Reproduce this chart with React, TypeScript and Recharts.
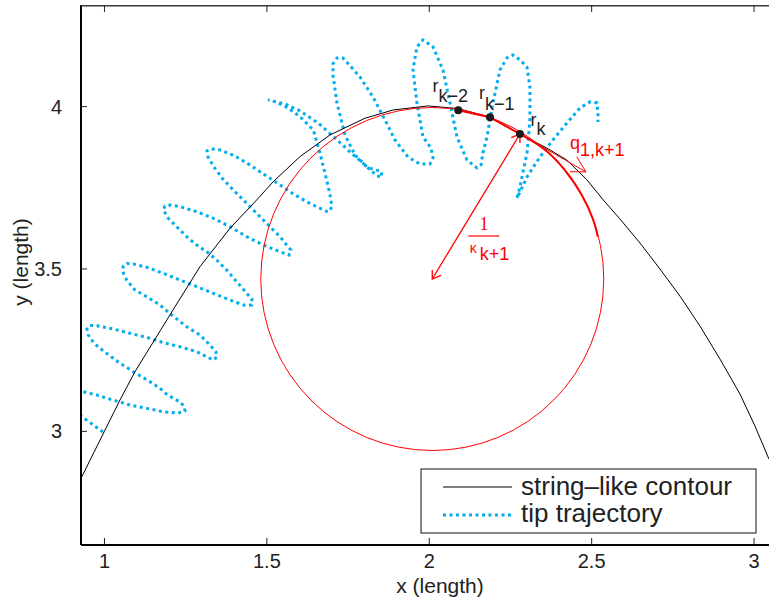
import React from 'react';
import { ComposedChart, Line, XAxis, YAxis, ReferenceDot, Scatter } from 'recharts';

const X_DOMAIN: [number, number] = [0.9277, 3.046];
const Y_DOMAIN: [number, number] = [2.65, 4.313];
const X_TICKS = [1, 1.5, 2, 2.5, 3];
const Y_TICKS = [3, 3.5, 4];

const contour = [
  { x: 0.9277, y: 2.8552 }, { x: 0.9994, y: 2.9994 }, { x: 1.0477, y: 3.0964 }, { x: 1.0939, y: 3.1836 },
  { x: 1.2109, y: 3.3737 }, { x: 1.294, y: 3.5071 }, { x: 1.3864, y: 3.6254 }, { x: 1.4686, y: 3.7126 },
  { x: 1.5197, y: 3.769 }, { x: 1.6019, y: 3.846 }, { x: 1.6943, y: 3.9128 }, { x: 1.802, y: 3.9642 },
  { x: 1.8891, y: 3.9898 }, { x: 1.9969, y: 4.0022 }, { x: 2.0893, y: 3.9938 }, { x: 2.1869, y: 3.9673 },
  { x: 2.2792, y: 3.915 }, { x: 2.3614, y: 3.8728 }, { x: 2.423, y: 3.8358 }, { x: 2.4846, y: 3.7756 },
  { x: 2.5357, y: 3.7126 }, { x: 2.587, y: 3.6541 }, { x: 2.6487, y: 3.5801 }, { x: 2.7102, y: 3.5 },
  { x: 2.7718, y: 3.4168 }, { x: 2.8334, y: 3.3244 }, { x: 2.895, y: 3.2228 }, { x: 2.9566, y: 3.115 },
  { x: 3.0028, y: 3.0163 }, { x: 3.0459, y: 2.9146 },
];

const tipStart = [
  { x: 0.9954, y: 2.9978 }, { x: 0.9615, y: 3.0225 }, { x: 0.9277, y: 3.0471 }, { x: 0.8938, y: 3.0779 },
  { x: 0.8722, y: 3.1057 }, { x: 0.8876, y: 3.1273 },
];
const tipLoops1 = [
  { x: 0.9092, y: 3.1303 }, { x: 0.9338, y: 3.122 }, { x: 0.976, y: 3.1118 }, { x: 1.0271, y: 3.0964 },
  { x: 1.0785, y: 3.081 }, { x: 1.1299, y: 3.0708 }, { x: 1.181, y: 3.0604 }, { x: 1.2263, y: 3.0564 },
  { x: 1.2478, y: 3.0626 }, { x: 1.2448, y: 3.0779 },
  { x: 1.2325, y: 3.0903 }, { x: 1.2109, y: 3.1026 }, { x: 1.1915, y: 3.114 }, { x: 1.1709, y: 3.1325 },
  { x: 1.1401, y: 3.1528 }, { x: 1.1145, y: 3.1682 }, { x: 1.0887, y: 3.1836 }, { x: 1.0683, y: 3.1972 },
  { x: 1.0477, y: 3.2095 }, { x: 1.0271, y: 3.2249 }, { x: 1.0068, y: 3.2403 }, { x: 0.9861, y: 3.2557 },
  { x: 0.9655, y: 3.2742 }, { x: 0.9501, y: 3.2967 }, { x: 0.9461, y: 3.3152 },
];
const tipLoops2 = [
  { x: 0.9554, y: 3.326 }, { x: 0.976, y: 3.3253 }, { x: 1.0271, y: 3.3152 }, { x: 1.0785, y: 3.3019 },
  { x: 1.1299, y: 3.2896 }, { x: 1.181, y: 3.273 }, { x: 1.2325, y: 3.2606 }, { x: 1.2839, y: 3.2452 },
  { x: 1.3147, y: 3.2298 }, { x: 1.335, y: 3.2197 }, { x: 1.3464, y: 3.2289 }, { x: 1.3433, y: 3.2443 },
  { x: 1.3248, y: 3.2659 }, { x: 1.294, y: 3.2967 }, { x: 1.2531, y: 3.3222 }, { x: 1.2069, y: 3.3583 },
  { x: 1.1709, y: 3.3891 }, { x: 1.1299, y: 3.4147 }, { x: 1.0939, y: 3.4353 }, { x: 1.0683, y: 3.4661 },
  { x: 1.056, y: 3.4917 }, { x: 1.0579, y: 3.5092 },
];
const tipLoops3 = [
  { x: 1.0693, y: 3.517 }, { x: 1.0887, y: 3.5154 }, { x: 1.1299, y: 3.5052 }, { x: 1.181, y: 3.4868 },
  { x: 1.2325, y: 3.4661 }, { x: 1.2839, y: 3.4455 }, { x: 1.335, y: 3.4252 }, { x: 1.3864, y: 3.4045 },
  { x: 1.4273, y: 3.3891 }, { x: 1.4532, y: 3.3891 }, { x: 1.4541, y: 3.4076 },
  { x: 1.4378, y: 3.4252 }, { x: 1.407, y: 3.4609 }, { x: 1.3762, y: 3.4968 }, { x: 1.3454, y: 3.5277 },
  { x: 1.3147, y: 3.5533 }, { x: 1.2839, y: 3.5739 }, { x: 1.2531, y: 3.5995 }, { x: 1.2223, y: 3.6303 },
  { x: 1.1964, y: 3.6562 }, { x: 1.181, y: 3.6818 }, { x: 1.1863, y: 3.6941 },
];
const tipLoops4 = [
  { x: 1.2017, y: 3.6972 }, { x: 1.2325, y: 3.6919 }, { x: 1.2839, y: 3.6765 }, { x: 1.335, y: 3.6562 },
  { x: 1.3864, y: 3.6303 }, { x: 1.4378, y: 3.5995 }, { x: 1.4889, y: 3.5739 }, { x: 1.5403, y: 3.5533 },
  { x: 1.568, y: 3.5431 }, { x: 1.5742, y: 3.5585 },
  { x: 1.561, y: 3.5739 }, { x: 1.5403, y: 3.5995 }, { x: 1.5095, y: 3.6303 }, { x: 1.4788, y: 3.6611 },
  { x: 1.448, y: 3.6919 }, { x: 1.4172, y: 3.7227 }, { x: 1.3864, y: 3.7535 }, { x: 1.3618, y: 3.7804 },
  { x: 1.3371, y: 3.8142 }, { x: 1.3187, y: 3.845 }, { x: 1.3156, y: 3.8635 }, { x: 1.3279, y: 3.8697 },
];
const tipLoops5 = [
  { x: 1.3556, y: 3.8666 }, { x: 1.4018, y: 3.8481 }, { x: 1.448, y: 3.8204 }, { x: 1.4942, y: 3.7896 },
  { x: 1.5403, y: 3.7588 }, { x: 1.5865, y: 3.728 }, { x: 1.6225, y: 3.7073 }, { x: 1.6533, y: 3.6919 },
  { x: 1.689, y: 3.6756 }, { x: 1.7004, y: 3.6909 },
  { x: 1.6943, y: 3.728 }, { x: 1.6841, y: 3.7745 }, { x: 1.6635, y: 3.8564 }, { x: 1.6429, y: 3.9282 },
  { x: 1.6019, y: 3.9692 }, { x: 1.565, y: 3.996 }, { x: 1.528, y: 4.0145 }, { x: 1.5034, y: 4.0206 },
];
const tipLoops6 = [
  { x: 1.5557, y: 4.0083 }, { x: 1.6019, y: 3.9868 }, { x: 1.6573, y: 3.9498 }, { x: 1.7097, y: 3.9036 },
  { x: 1.7559, y: 3.8604 }, { x: 1.802, y: 3.8204 }, { x: 1.839, y: 3.7865 }, { x: 1.8544, y: 3.7834 },
  { x: 1.8513, y: 3.8019 },
  { x: 1.8328, y: 3.805 }, { x: 1.8082, y: 3.8142 }, { x: 1.7712, y: 3.8512 }, { x: 1.7405, y: 3.9128 },
  { x: 1.7158, y: 4.0114 }, { x: 1.7035, y: 4.0977 }, { x: 1.7035, y: 4.1316 }, { x: 1.7158, y: 4.15 },
];
const tipLoops7 = [
  { x: 1.7343, y: 4.15 }, { x: 1.7866, y: 4.0915 }, { x: 1.8267, y: 4.0299 }, { x: 1.8636, y: 3.959 },
  { x: 1.8944, y: 3.8975 }, { x: 1.9344, y: 3.845 }, { x: 1.9714, y: 3.8235 }, { x: 2.0021, y: 3.8235 },
  { x: 2.0114, y: 3.842 },
  { x: 2.0052, y: 3.8727 }, { x: 1.9806, y: 3.9066 }, { x: 1.9621, y: 4.0114 }, { x: 1.9498, y: 4.113 },
  { x: 1.9621, y: 4.1839 }, { x: 1.9806, y: 4.2055 },
];
const tipLoops8 = [
  { x: 2.0114, y: 4.1839 }, { x: 2.0422, y: 4.113 }, { x: 2.0637, y: 4.0114 }, { x: 2.0853, y: 3.9066 },
  { x: 2.1161, y: 3.8358 }, { x: 2.1469, y: 3.8111 }, { x: 2.1592, y: 3.8204 },
  { x: 2.1653, y: 3.8574 }, { x: 2.1777, y: 3.9066 }, { x: 2.1961, y: 4.0114 }, { x: 2.2177, y: 4.113 },
  { x: 2.2392, y: 4.15 }, { x: 2.2577, y: 4.1593 },
];
const tipEnd = [
  { x: 2.2792, y: 4.1439 }, { x: 2.3008, y: 4.1223 }, { x: 2.31, y: 4.0607 }, { x: 2.31, y: 3.959 },
  { x: 2.3008, y: 3.8574 }, { x: 2.2792, y: 3.7526 }, { x: 2.27, y: 3.7181 },
  { x: 2.2823, y: 3.7434 }, { x: 2.3008, y: 3.7834 }, { x: 2.3408, y: 3.845 }, { x: 2.3809, y: 3.8975 },
  { x: 2.424, y: 3.9498 }, { x: 2.464, y: 3.996 }, { x: 2.4948, y: 4.0145 }, { x: 2.5163, y: 4.0114 },
  { x: 2.5194, y: 3.9806 }, { x: 2.5194, y: 3.9529 },
];
const tipTrajectory = [
  ...tipStart, ...tipLoops1, ...tipLoops2, ...tipLoops3, ...tipLoops4, ...tipLoops5,
  ...tipLoops6, ...tipLoops7, ...tipLoops8, ...tipEnd,
];

// points r_{k-2}, r_{k-1}, r_k
const rPoints = [
  { x: 2.0893, y: 3.9888, name: 'k\u22122' },
  { x: 2.1869, y: 3.9673, name: 'k\u22121' },
  { x: 2.2792, y: 3.9158, name: 'k' },
];
const predictedArc = [
  { x: 2.2792, y: 3.9158 }, { x: 2.3571, y: 3.8666 }, { x: 2.4169, y: 3.805 },
  { x: 2.4695, y: 3.728 }, { x: 2.5049, y: 3.651 }, { x: 2.5188, y: 3.6 },
];
const circleCenter = { x: 2.0092, y: 3.4692 };
const radiusArrow = [{ x: 2.2792, y: 3.9158 }, { x: 2.0092, y: 3.4692 }];
const radiusHeadCenter = [{ x: 2.0092, y: 3.4969 }, { x: 2.0092, y: 3.4692 }, { x: 2.036, y: 3.4806 }];
const radiusHeadTop = [{ x: 2.2792, y: 3.8882 }, { x: 2.2792, y: 3.9158 }, { x: 2.2525, y: 3.9048 }];
const tangentArrow = [{ x: 2.2792, y: 3.9158 }, { x: 2.4824, y: 3.7989 }];
const tangentHead = [{ x: 2.4538, y: 3.8459 }, { x: 2.4824, y: 3.7989 }, { x: 2.4332, y: 3.7998 }];

const LEGEND_ITEMS = ['string\u2013like contour', 'tip trajectory'];

// pixel frame of the plot box (matches chart margin and axis sizes below)
const PLOT = { left: 81, top: 5, right: 769, bottom: 545 };

const SANS = '"Liberation Sans", Arial, Helvetica, sans-serif';
const SERIF = '"Liberation Serif", "Times New Roman", serif';
const RED = '#ff0000';
const BLUE = '#00aeef';
const R_LABEL_OFFSET: Record<string, { dx: number; dy: number; sub: number }> = {
  'k\u22122': { dx: -25.8, dy: -18.3, sub: 10 },
  'k\u22121': { dx: -11, dy: -18, sub: 11 },
  k: { dx: 10.5, dy: -8, sub: 9 },
};

const xToPx = (v: number) =>
  PLOT.left + ((v - X_DOMAIN[0]) / (X_DOMAIN[1] - X_DOMAIN[0])) * (PLOT.right - PLOT.left);

const RPointShape = (p: any) => {
  const o = R_LABEL_OFFSET[p.payload.name];
  return (
    <g>
      <circle cx={p.cx} cy={p.cy} r={4} fill="#1a1a1a" />
      <text x={p.cx + o.dx} y={p.cy + o.dy} fontFamily={SANS} fontSize={18} fill="#222">
        r<tspan dy={o.sub}>{p.payload.name}</tspan>
      </text>
    </g>
  );
};

const FractionLabel = (p: any) => (
  <g fill={RED} fontFamily={SANS}>
    <text x={p.cx + 51.7} y={p.cy - 49} fontSize={18} fontFamily={SERIF} textAnchor="middle">1</text>
    <line x1={p.cx + 36} x2={p.cx + 67} y1={p.cy - 43} y2={p.cy - 43} stroke={RED} strokeWidth={1.2} />
    <text x={p.cx + 37.5} y={p.cy - 26} fontSize={14}>κ</text>
    <text x={p.cx + 47.5} y={p.cy - 19} fontSize={18}>k+1</text>
  </g>
);

const QLabel = (p: any) => (
  <text x={p.cx - 16} y={p.cy - 22.5} fill={RED} fontFamily={SANS} fontSize={18}>
    q<tspan dy={7}>1,k+1</tspan>
  </text>
);

const XTitle = (props: any) => {
  const vb = props.viewBox || { x: 81, y: 545, width: 688 };
  return (
    <text x={vb.x + 359} y={vb.y + 47.5} textAnchor="middle" fontFamily={SANS} fontSize={21} fill="#222">
      x (length)
    </text>
  );
};
const YTitle = (props: any) => {
  const vb = props.viewBox || { x: 0, y: 5, width: 81 };
  const x = vb.x + 27.5;
  const y = vb.y + 257;
  return (
    <text x={x} y={y} transform={`rotate(-90 ${x} ${y})`} textAnchor="middle" fontFamily={SANS} fontSize={21} fill="#222">
      y (length)
    </text>
  );
};

export default function App() {
  return (
    <div style={{ position: 'absolute', left: 0, top: 0, width: 769, height: 603, background: '#fff' }}>
      <ComposedChart width={769} height={603} margin={{ top: 5, right: 0, bottom: 0, left: 0 }}>
        <XAxis
          xAxisId="bottom"
          dataKey="x"
          type="number"
          domain={X_DOMAIN}
          ticks={X_TICKS}
          allowDataOverflow
          height={58}
          axisLine={{ stroke: '#000', strokeWidth: 2 }}
          tickLine={{ stroke: '#222' }}
          tickSize={-7}
          tickMargin={16}
          tick={{ fontSize: 20, fontFamily: SANS, fill: '#222' }}
          label={{ content: XTitle }}
        />
        <YAxis
          yAxisId="left"
          dataKey="y"
          type="number"
          domain={Y_DOMAIN}
          ticks={Y_TICKS}
          allowDataOverflow
          width={81}
          axisLine={{ stroke: '#000', strokeWidth: 2 }}
          tickLine={{ stroke: '#222' }}
          tickSize={-6}
          tickMargin={25}
          tick={{ fontSize: 20, fontFamily: SANS, fill: '#222' }}
          label={{ content: YTitle }}
        />
        <Line
          xAxisId="bottom" yAxisId="left"
          data={tipTrajectory} dataKey="y" type="linear"
          stroke={BLUE} strokeWidth={3} strokeDasharray="3 3.5" dot={false}
          isAnimationActive={false}
        />
        <Line
          xAxisId="bottom" yAxisId="left"
          data={contour} dataKey="y" type="linear"
          stroke="#000" strokeWidth={1} dot={false}
          isAnimationActive={false}
        />
        <ReferenceDot
          xAxisId="bottom" yAxisId="left"
          x={circleCenter.x} y={circleCenter.y} r={171.5}
          fill="none" stroke={RED} strokeWidth={1}
          ifOverflow="visible"
        />
        <Line xAxisId="bottom" yAxisId="left" data={rPoints} dataKey="y" type="linear"
          stroke={RED} strokeWidth={2} dot={false} isAnimationActive={false} />
        <Line xAxisId="bottom" yAxisId="left" data={predictedArc} dataKey="y" type="natural"
          stroke={RED} strokeWidth={2} dot={false} isAnimationActive={false} />
        <Line xAxisId="bottom" yAxisId="left" data={radiusArrow} dataKey="y" type="linear"
          stroke={RED} strokeWidth={1.3} dot={false} isAnimationActive={false} />
        <Line xAxisId="bottom" yAxisId="left" data={radiusHeadCenter} dataKey="y" type="linear"
          stroke={RED} strokeWidth={1.3} dot={false} isAnimationActive={false} />
        <Line xAxisId="bottom" yAxisId="left" data={radiusHeadTop} dataKey="y" type="linear"
          stroke={RED} strokeWidth={1.3} dot={false} isAnimationActive={false} />
        <Line xAxisId="bottom" yAxisId="left" data={tangentArrow} dataKey="y" type="linear"
          stroke={RED} strokeWidth={1} dot={false} isAnimationActive={false} />
        <Line xAxisId="bottom" yAxisId="left" data={tangentHead} dataKey="y" type="linear"
          stroke={RED} strokeWidth={1} dot={false} isAnimationActive={false} />
        <Scatter xAxisId="bottom" yAxisId="left" data={rPoints} dataKey="y"
          shape={RPointShape} isAnimationActive={false} />
        <ReferenceDot xAxisId="bottom" yAxisId="left" x={circleCenter.x} y={circleCenter.y} r={0}
          ifOverflow="visible" shape={FractionLabel} />
        <ReferenceDot xAxisId="bottom" yAxisId="left" x={tangentArrow[1].x} y={tangentArrow[1].y} r={0}
          ifOverflow="visible" shape={QLabel} />
      </ComposedChart>
      <svg width={769} height={603} style={{ position: 'absolute', left: 0, top: 0, pointerEvents: 'none' }}>
        {/* top edge of the axes box with inward ticks */}
        <line x1={PLOT.left} x2={PLOT.right} y1={PLOT.top + 0.75} y2={PLOT.top + 0.75} stroke="#3a3a3a" strokeWidth={1.5} />
        {X_TICKS.map((t) => (
          <line key={t} x1={xToPx(t)} x2={xToPx(t)} y1={PLOT.top} y2={PLOT.top + 7} stroke="#222" strokeWidth={1} />
        ))}
        <rect x={421} y={469} width={335} height={64} fill="#fff" stroke="#111" strokeWidth={1} />
        <line x1={443} x2={512} y1={487} y2={487} stroke="#000" strokeWidth={1} />
        <line x1={443} x2={512} y1={515} y2={515} stroke={BLUE} strokeWidth={3} strokeDasharray="3 3.5" />
        <text x={521} y={495} fontFamily={SANS} fontSize={26} fill="#222">{LEGEND_ITEMS[0]}</text>
        <text x={521} y={522} fontFamily={SANS} fontSize={26} fill="#222">{LEGEND_ITEMS[1]}</text>
      </svg>
    </div>
  );
}
